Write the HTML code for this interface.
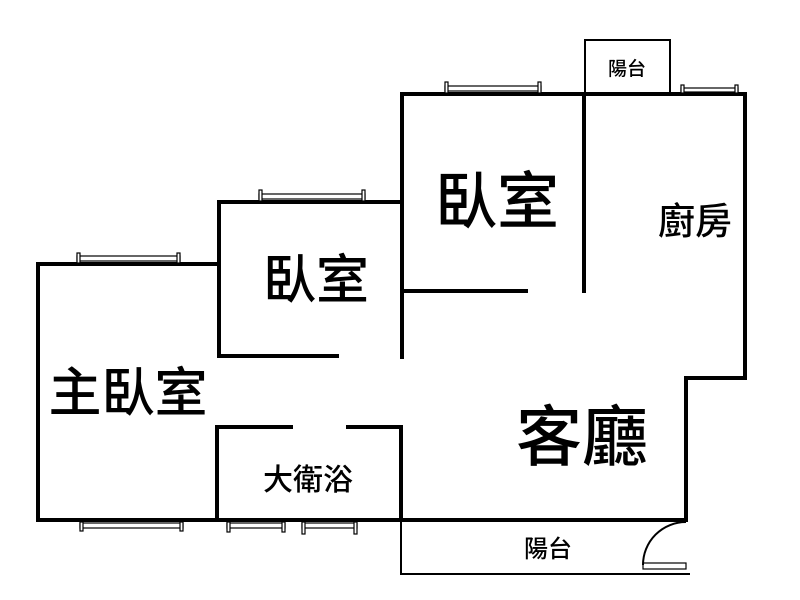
<!DOCTYPE html>
<html><head><meta charset="utf-8"><style>
html,body{margin:0;padding:0;background:#fff;}
svg{display:block;}
text{font-family:"Liberation Sans","Noto Sans CJK TC",sans-serif;fill:#000;font-weight:500;}
</style></head><body>
<svg width="800" height="600" viewBox="0 0 800 600" xmlns="http://www.w3.org/2000/svg">
<g stroke="#000" stroke-width="4" fill="none" stroke-linecap="square">
  <polyline points="38,264 219,264"/>
  <polyline points="38,264 38,520 686,520 686,378 745,378 745,94 402,94 402,357"/>
  <polyline points="219,356 219,202 402,202"/>
  <line x1="219" y1="356" x2="337" y2="356"/>
  <line x1="402" y1="291" x2="526" y2="291"/>
  <line x1="584" y1="94" x2="584" y2="291"/>
  <polyline points="217,520 217,427 291,427"/>
  <polyline points="348,427 401,427 401,520"/>
</g>
<g stroke="#000" stroke-width="2" fill="none">
  <rect x="585" y="40" width="85" height="54"/>
  <polyline points="401,520 401,574 690,574"/>
  <path d="M643,565 A43,43 0 0 1 686,522"/>
  <rect x="643" y="563" width="43" height="6" stroke-width="1.2"/>
</g>
<g stroke="#000" stroke-width="1.2" fill="#fff">
  <rect x="77" y="256" width="103" height="5"/>
  <rect x="77" y="253" width="3" height="10"/><rect x="177" y="253" width="3" height="10"/>
  <rect x="259" y="194" width="106" height="5"/>
  <rect x="259" y="190" width="3" height="11"/><rect x="362" y="190" width="3" height="11"/>
  <rect x="445" y="86" width="96" height="5"/>
  <rect x="445" y="82" width="3" height="11"/><rect x="538" y="82" width="3" height="11"/>
  <rect x="681" y="88" width="57" height="4"/>
  <rect x="681" y="85" width="3" height="8"/><rect x="735" y="85" width="3" height="8"/>
  <rect x="80" y="523" width="103" height="5"/>
  <rect x="80" y="522" width="3" height="9"/><rect x="180" y="522" width="3" height="9"/>
  <rect x="227" y="523" width="58" height="5"/>
  <rect x="227" y="522" width="3" height="10"/><rect x="282" y="522" width="3" height="10"/>
  <rect x="302" y="523" width="55" height="5"/>
  <rect x="302" y="522" width="3" height="12"/><rect x="354" y="522" width="3" height="12"/>
</g>
<text x="627" y="75" font-size="19" text-anchor="middle">陽台</text>
<text x="497" y="223" font-size="62" text-anchor="middle">臥室</text>
<text x="316" y="298" font-size="53" text-anchor="middle">臥室</text>
<text x="695" y="234" font-size="37" text-anchor="middle">廚房</text>
<text x="128" y="411" font-size="53" text-anchor="middle">主臥室</text>
<text x="582" y="460" font-size="66" text-anchor="middle">客廳</text>
<text x="308" y="490" font-size="30" text-anchor="middle">大衛浴</text>
<text x="548" y="557" font-size="24" text-anchor="middle">陽台</text>
</svg>
</body></html>
